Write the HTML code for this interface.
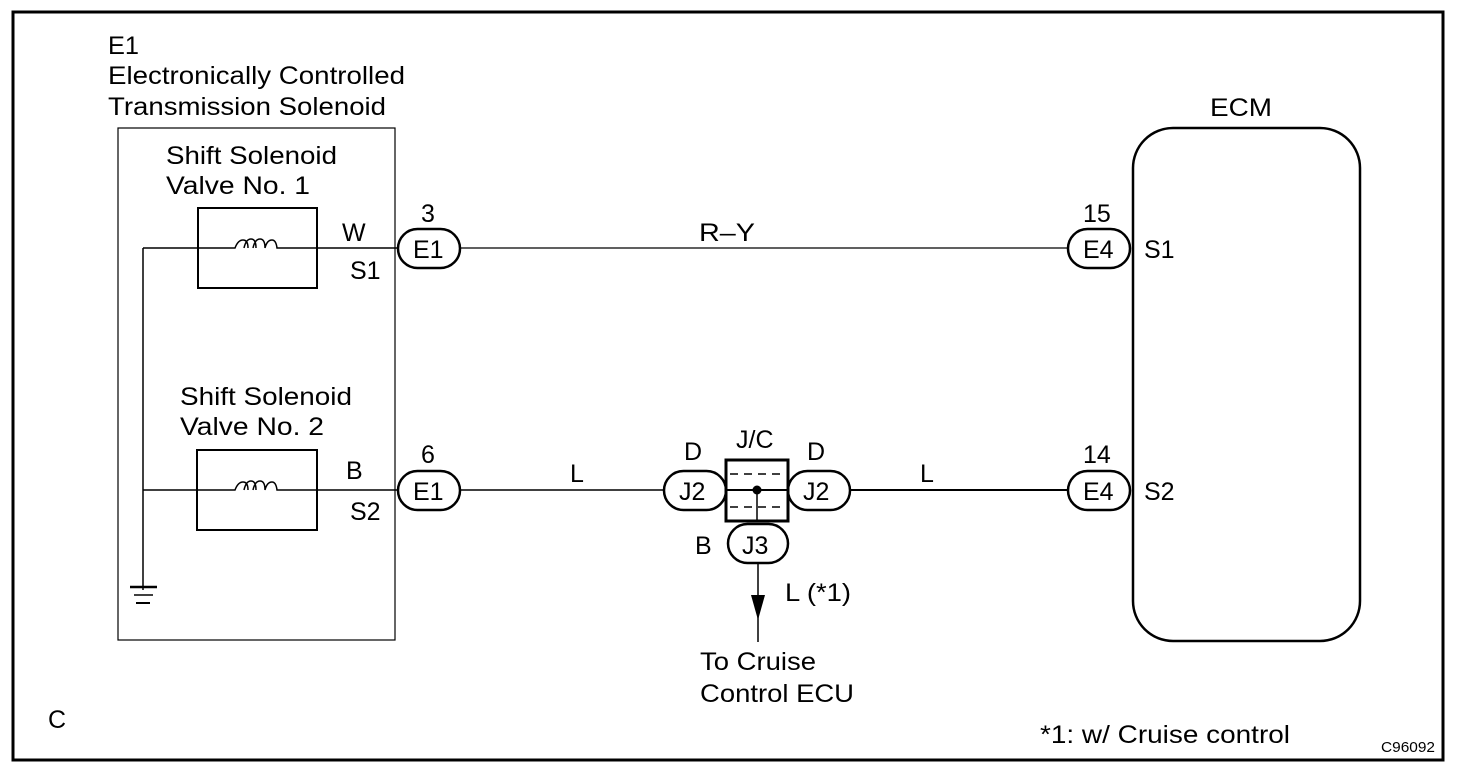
<!DOCTYPE html>
<html><head><meta charset="utf-8"><style>
html,body{margin:0;padding:0;background:#fff}
svg{display:block}
text{font-family:"Liberation Sans",Arial,sans-serif;font-size:25px;fill:#000}
</style></head><body>
<svg width="1472" height="776" viewBox="0 0 1472 776" xmlns="http://www.w3.org/2000/svg">
<rect x="13" y="12" width="1430" height="748" fill="none" stroke="#000" stroke-width="3"/>
<text x="108" y="54" textLength="31" lengthAdjust="spacingAndGlyphs">E1</text>
<text x="108" y="84" textLength="297" lengthAdjust="spacingAndGlyphs">Electronically Controlled</text>
<text x="108" y="115" textLength="278" lengthAdjust="spacingAndGlyphs">Transmission Solenoid</text>
<rect x="118" y="128" width="277" height="512" fill="none" stroke="#000" stroke-width="1.2"/>
<text x="166" y="164" textLength="171" lengthAdjust="spacingAndGlyphs">Shift Solenoid</text>
<text x="166" y="194" textLength="144" lengthAdjust="spacingAndGlyphs">Valve No. 1</text>
<text x="180" y="405" textLength="172" lengthAdjust="spacingAndGlyphs">Shift Solenoid</text>
<text x="180" y="435" textLength="144" lengthAdjust="spacingAndGlyphs">Valve No. 2</text>
<rect x="198" y="208" width="119" height="80" fill="none" stroke="#000" stroke-width="2"/>
<rect x="197" y="450" width="120" height="80" fill="none" stroke="#000" stroke-width="2"/>
<g fill="none" stroke="#000" stroke-width="1.5">
<path d="M143 248 H235 q3-8 8-8 q5 0 5 8 M244 248 q2-9 7-9 q5 0 5 9 M253 248 q2-9 7-9 q5 0 5 9 q2-8 7-8 q4 0 5 8 H398"/>
<path d="M143 490 H235 q3-8 8-8 q5 0 5 8 M244 490 q2-9 7-9 q5 0 5 9 M253 490 q2-9 7-9 q5 0 5 9 q2-8 7-8 q4 0 5 8 H398"/>
<path d="M143 248 V590"/>
</g>
<line x1="130" y1="587" x2="157" y2="587" stroke="#000" stroke-width="2.5"/>
<line x1="134" y1="595" x2="153" y2="595" stroke="#000" stroke-width="1.5"/>
<line x1="136" y1="603" x2="150" y2="603" stroke="#000" stroke-width="2"/>
<text x="342" y="241">W</text><text x="350" y="279">S1</text>
<text x="346" y="479">B</text><text x="350" y="520">S2</text>
<g fill="#fff" stroke="#000" stroke-width="2.5">
<rect x="398" y="229" width="62" height="39" rx="19.5"/>
<rect x="398" y="471" width="62" height="39" rx="19.5"/>
<rect x="1068" y="229" width="62" height="39" rx="19.5"/>
<rect x="1068" y="471" width="62" height="39" rx="19.5"/>
<rect x="664" y="471" width="62" height="39" rx="19.5"/>
<rect x="788" y="471" width="62" height="39" rx="19.5"/>
<rect x="728" y="524" width="60" height="39" rx="19.5"/>
</g>
<text x="413" y="258">E1</text><text x="413" y="500">E1</text>
<text x="1083" y="258">E4</text><text x="1083" y="500">E4</text>
<text x="679" y="500">J2</text><text x="803" y="500">J2</text><text x="742" y="554">J3</text>
<text x="421" y="222">3</text><text x="421" y="463">6</text>
<text x="1083" y="222">15</text><text x="1083" y="463">14</text>
<text x="1144" y="258">S1</text><text x="1144" y="500">S2</text>
<line x1="460" y1="248" x2="1068" y2="248" stroke="#000" stroke-width="1.2"/>
<text x="699" y="241" textLength="56" lengthAdjust="spacingAndGlyphs">R–Y</text>
<line x1="460" y1="490" x2="664" y2="490" stroke="#000" stroke-width="1.5"/>
<line x1="850" y1="490" x2="1068" y2="490" stroke="#000" stroke-width="2"/>
<text x="570" y="482">L</text><text x="920" y="482">L</text>
<rect x="726" y="460" width="62" height="61" fill="#fff" stroke="#000" stroke-width="3"/>
<line x1="730" y1="474" x2="786" y2="474" stroke="#000" stroke-width="1.5" stroke-dasharray="8,6"/>
<line x1="730" y1="507" x2="786" y2="507" stroke="#000" stroke-width="1.5" stroke-dasharray="8,6"/>
<line x1="726" y1="490" x2="788" y2="490" stroke="#000" stroke-width="2"/>
<line x1="757" y1="490" x2="757" y2="521" stroke="#000" stroke-width="1.5"/>
<circle cx="757" cy="490" r="4.5" fill="#000"/>
<text x="736" y="448">J/C</text><text x="684" y="460">D</text><text x="807" y="460">D</text>
<text x="695" y="554">B</text>
<line x1="758" y1="563" x2="758" y2="642" stroke="#000" stroke-width="1.5"/>
<polygon points="751,595 765,595 758,620" fill="#000"/>
<text x="785" y="601" textLength="66" lengthAdjust="spacingAndGlyphs">L (*1)</text>
<text x="700" y="670" textLength="116" lengthAdjust="spacingAndGlyphs">To Cruise</text>
<text x="700" y="702" textLength="154" lengthAdjust="spacingAndGlyphs">Control ECU</text>
<text x="1210" y="116" textLength="62" lengthAdjust="spacingAndGlyphs">ECM</text>
<rect x="1133" y="128" width="227" height="513" rx="40" fill="none" stroke="#000" stroke-width="2.5"/>
<text x="48" y="728">C</text>
<text x="1040" y="743" textLength="250" lengthAdjust="spacingAndGlyphs">*1: w/ Cruise control</text>
<text x="1381" y="752" style="font-size:15px" textLength="54" lengthAdjust="spacingAndGlyphs">C96092</text>
</svg>
</body></html>
